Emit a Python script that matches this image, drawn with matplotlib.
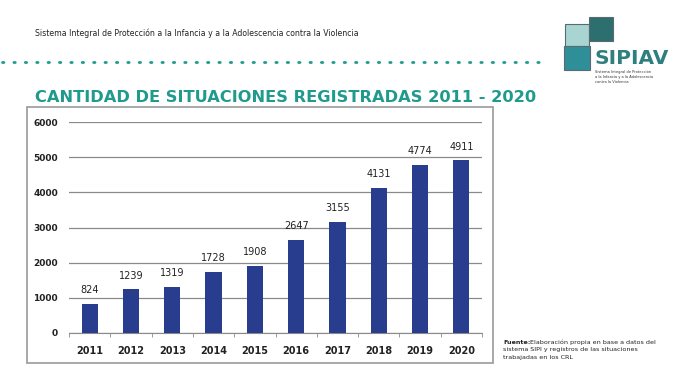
import matplotlib
matplotlib.use("Agg")
import matplotlib.pyplot as plt
from matplotlib.patches import Rectangle

years = ["2011", "2012", "2013", "2014", "2015", "2016", "2017", "2018", "2019", "2020"]
values = [824, 1239, 1319, 1728, 1908, 2647, 3155, 4131, 4774, 4911]
yticks = [0, 1000, 2000, 3000, 4000, 5000, 6000]

W, H = 678, 380
fig = plt.figure(figsize=(W / 100, H / 100), dpi=100)
fig.patch.set_facecolor("white")

def fx(px):
    return px / W

def fy(py):
    return 1 - py / H

teal = "#1f9a8d"
bar_color = "#283d8e"

# Header text
fig.text(fx(35), fy(33), "Sistema Integral de Protección a la Infancia y a la Adolescencia contra la Violencia",
         fontsize=5.6, color="#222222", va="center", ha="left", family="DejaVu Sans")

# Dotted line
fig.add_artist(plt.Line2D([fx(2), fx(548)], [fy(62), fy(62)], color=teal, lw=2.0,
                          linestyle=(0, (0.5, 3.6)), dash_capstyle="round"))

# Title
fig.text(fx(35), fy(98), "CANTIDAD DE SITUACIONES REGISTRADAS 2011 - 2020",
         fontsize=11.7, color=teal, fontweight="heavy", va="center", ha="left", family="DejaVu Sans")

# Chart frame
fig.add_artist(Rectangle((fx(27), fy(363)), fx(493) - fx(27), fy(107) - fy(363),
                         transform=fig.transFigure, fill=False, edgecolor="#9a9a9a", lw=1.2))

# Axes
ax = fig.add_axes([fx(69), fy(333), fx(482) - fx(69), fy(122) - fy(333)])
x = list(range(len(years)))
ax.bar(x, values, width=0.39, color=bar_color, zorder=3)
ax.set_xlim(-0.5, len(years) - 0.5)
ax.set_ylim(0, 6000)
ax.set_yticks(yticks)
ax.set_yticklabels([str(v) for v in yticks], fontsize=6.5, fontweight="bold", color="#222222")
ax.set_xticks(x)
ax.set_xticklabels(years, fontsize=7, fontweight="bold", color="#222222")
ax.grid(axis="y", color="#8a8a8a", lw=0.9, zorder=0)
for s in ["top", "right", "left"]:
    ax.spines[s].set_visible(False)
ax.spines["bottom"].set_color("#8a8a8a")
ax.tick_params(axis="y", length=0, pad=8)
ax.tick_params(axis="x", length=0, pad=9)
ax.set_xticks([i - 0.5 for i in range(len(years) + 1)], minor=True)
ax.tick_params(axis="x", which="minor", length=3, color="#8a8a8a", direction="out")
for xi, v in zip(x, values):
    ax.text(xi, v + 250, str(v), ha="center", va="bottom", fontsize=7, color="#222222")

# Source note
fs = 4.6
fig.text(fx(503), fy(342), "Fuente:", fontsize=fs, fontweight="bold", color="#222222", va="center", ha="left")
fig.text(fx(530), fy(342), "Elaboración propia en base a datos del", fontsize=fs, color="#222222", va="center", ha="left")
fig.text(fx(503), fy(350), "sistema SIPI y registros de las situaciones", fontsize=fs, color="#222222", va="center", ha="left")
fig.text(fx(503), fy(358), "trabajadas en los CRL", fontsize=fs, color="#222222", va="center", ha="left")

# Logo (simplified puzzle pieces)
def piece(px, py, w, h, color):
    fig.add_artist(Rectangle((fx(px), fy(py + h)), w / W, h / H, transform=fig.transFigure,
                             facecolor=color, edgecolor="#5a6a70", lw=0.8))

piece(565, 24, 24, 22, "#a8d4d2")
piece(589, 17, 24, 24, "#2d6f6f")
piece(564, 46, 26, 24, "#2f8f98")
fig.text(fx(594), fy(59), "SIPIAV", fontsize=14.5, fontweight="bold", color="#2f7f80", va="center", ha="left")
fig.text(fx(595), fy(72), "Sistema Integral de Protección", fontsize=2.6, color="#333333", va="center", ha="left")
fig.text(fx(595), fy(77), "a la Infancia y a la Adolescencia", fontsize=2.6, color="#333333", va="center", ha="left")
fig.text(fx(595), fy(82), "contra la Violencia", fontsize=2.6, color="#333333", va="center", ha="left")

fig.savefig("out.png", dpi=100, facecolor="white")
